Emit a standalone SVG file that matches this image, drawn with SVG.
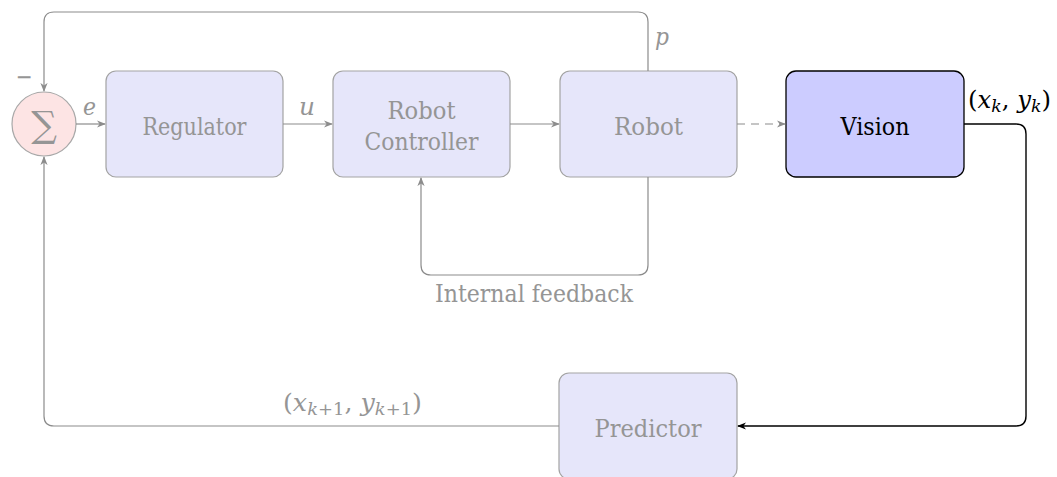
<svg xmlns="http://www.w3.org/2000/svg" width="1057" height="477" viewBox="0 0 1057 477">
  <defs>
    <marker id="ah" viewBox="0 0 10 10" refX="9" refY="5" markerWidth="9" markerHeight="9" markerUnits="userSpaceOnUse" orient="auto">
      <path d="M0,1 L10,5 L0,9 L3,5 Z" fill="#8c8c8c"/>
    </marker>
    <marker id="ahk" viewBox="0 0 10 10" refX="9" refY="5" markerWidth="9" markerHeight="9" markerUnits="userSpaceOnUse" orient="auto">
      <path d="M0,1 L10,5 L0,9 L3,5 Z" fill="#000"/>
    </marker>
    <style>
      text { font-family: "DejaVu Serif", "Liberation Serif", serif; }
      .box { fill: #e6e6fa; stroke: #a3a3a3; stroke-width: 1.2; }
      .lbl { font-size: 24px; fill: #959595; text-anchor: middle; }
      .math { font-size: 24px; font-style: italic; fill: #959595; }
      .wire { fill: none; stroke: #8c8c8c; stroke-width: 1.2; }
      .wirek { fill: none; stroke: #000; stroke-width: 1.4; }
    </style>
  </defs>

  <!-- summing junction -->
  <g id="sum">
    <circle cx="44" cy="124" r="32" fill="#fde4e4" stroke="#a8a8a8" stroke-width="1.2"/>
    <text x="44" y="137" class="lbl" style="font-size:36px">∑</text>
    <text x="24" y="85" class="lbl" textLength="17" lengthAdjust="spacingAndGlyphs">−</text>
  </g>

  <g id="regulator">
    <rect class="box" x="106" y="71" width="177" height="106" rx="10"/>
    <text class="lbl" x="194.5" y="135" textLength="104" lengthAdjust="spacingAndGlyphs">Regulator</text>
  </g>

  <g id="controller">
    <rect class="box" x="333" y="71" width="177" height="106" rx="10"/>
    <text class="lbl" x="421.5" y="119" textLength="68" lengthAdjust="spacingAndGlyphs">Robot</text>
    <text class="lbl" x="421.5" y="150" textLength="114" lengthAdjust="spacingAndGlyphs">Controller</text>
  </g>

  <g id="robot">
    <rect class="box" x="560" y="71" width="177" height="106" rx="10"/>
    <text class="lbl" x="648.5" y="135" textLength="69" lengthAdjust="spacingAndGlyphs">Robot</text>
  </g>

  <g id="vision">
    <rect x="786" y="71" width="178" height="106" rx="10" fill="#ccccff" stroke="#000" stroke-width="1.3"/>
    <text class="lbl" x="875" y="135" style="fill:#000" textLength="69" lengthAdjust="spacingAndGlyphs">Vision</text>
  </g>

  <g id="predictor">
    <rect class="box" x="559" y="373" width="178" height="106" rx="10"/>
    <text class="lbl" x="648" y="437" textLength="107" lengthAdjust="spacingAndGlyphs">Predictor</text>
  </g>

  <g id="connectors">
    <!-- error into regulator -->
    <path class="wire" d="M76,124 H105" marker-end="url(#ah)"/>
    <text class="math" x="83" y="115" textLength="13" lengthAdjust="spacingAndGlyphs">e</text>
    <!-- command into controller -->
    <path class="wire" d="M283,124 H332" marker-end="url(#ah)"/>
    <text class="math" x="299" y="115" textLength="16" lengthAdjust="spacingAndGlyphs">u</text>
    <!-- controller to robot -->
    <path class="wire" d="M510,124 H559" marker-end="url(#ah)"/>
    <!-- robot observed by vision -->
    <path class="wire" d="M737,124 H785" stroke-dasharray="8,6" marker-end="url(#ah)"/>
    <!-- position feedback -->
    <path class="wire" d="M648,71 V22 Q648,12 638,12 H54 Q44,12 44,22 V91" marker-end="url(#ah)"/>
    <text class="math" x="655" y="45" textLength="14" lengthAdjust="spacingAndGlyphs">p</text>
    <!-- internal feedback loop -->
    <path class="wire" d="M648,177 V265 Q648,275 638,275 H431 Q421,275 421,265 V178" marker-end="url(#ah)"/>
    <text class="lbl" x="534" y="302" textLength="198" lengthAdjust="spacingAndGlyphs">Internal feedback</text>
    <!-- vision to predictor -->
    <path class="wirek" d="M964,124 H1016 Q1026,124 1026,134 V416 Q1026,426 1016,426 H738" marker-end="url(#ahk)"/>
    <text x="968" y="108" style="font-size:24px;fill:#000" textLength="83" lengthAdjust="spacingAndGlyphs">(<tspan font-style="italic">x</tspan><tspan font-style="italic" font-size="17" dy="4">k</tspan><tspan dy="-4">, </tspan><tspan font-style="italic">y</tspan><tspan font-style="italic" font-size="17" dy="4">k</tspan><tspan dy="-4">)</tspan></text>
    <!-- prediction back to summing junction -->
    <path class="wire" d="M559,426 H54 Q44,426 44,416 V157" marker-end="url(#ah)"/>
    <text x="283" y="411" style="font-size:24px;fill:#959595" textLength="139" lengthAdjust="spacingAndGlyphs">(<tspan font-style="italic">x</tspan><tspan font-size="17" dy="4"><tspan font-style="italic">k</tspan>+1</tspan><tspan dy="-4">, </tspan><tspan font-style="italic">y</tspan><tspan font-size="17" dy="4"><tspan font-style="italic">k</tspan>+1</tspan><tspan dy="-4">)</tspan></text>
  </g>
</svg>
